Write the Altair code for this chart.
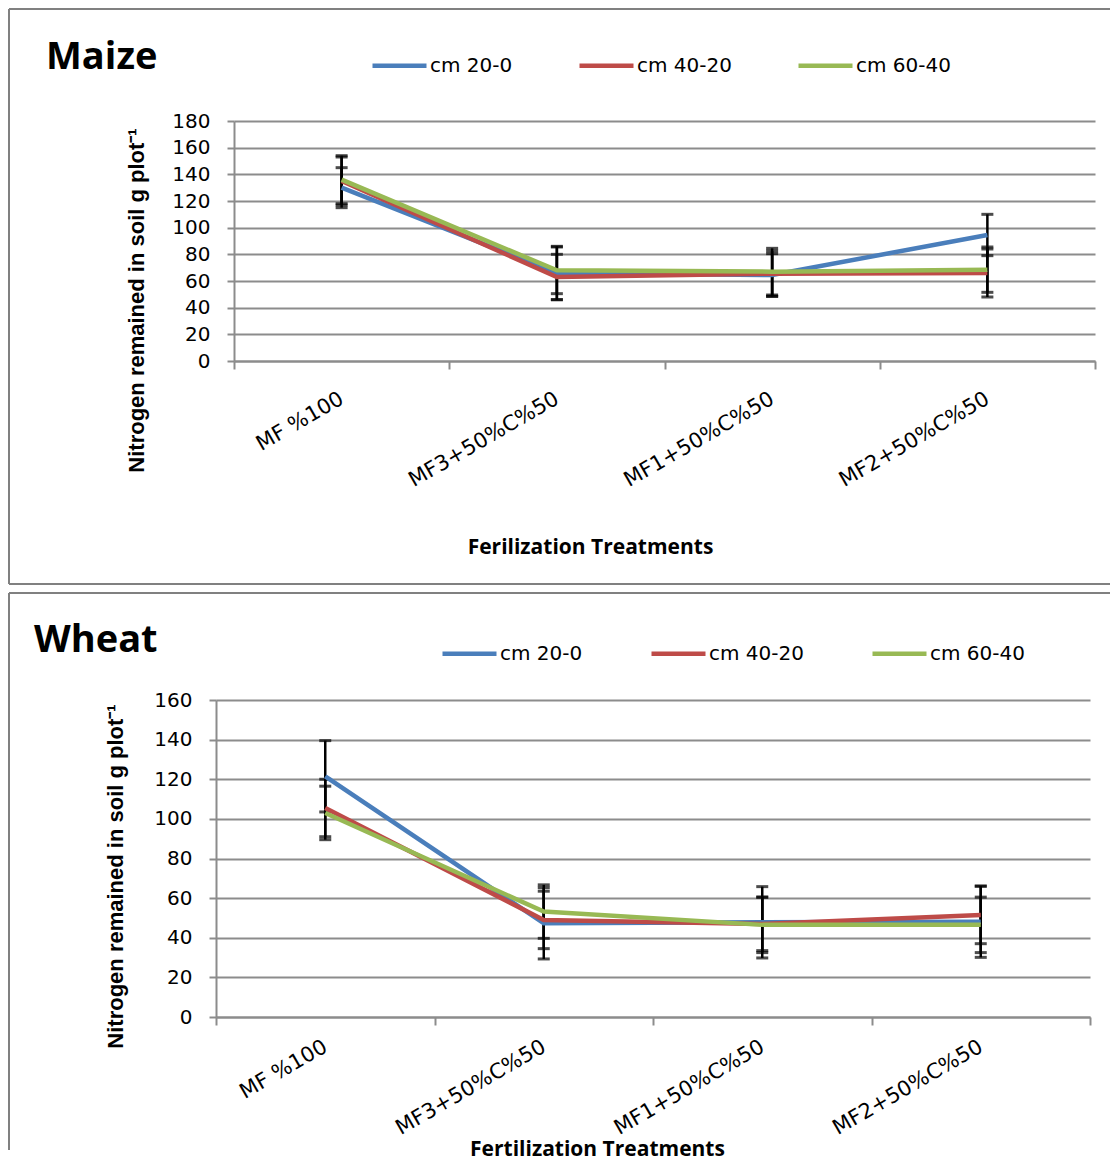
import altair as alt
import pandas as pd

# ---------------- data ----------------
categories = ["MF %100", "MF3+50%C%50", "MF1+50%C%50", "MF2+50%C%50"]
series_names = ["cm 20-0", "cm 40-20", "cm 60-40"]
series_colors = ["#4A7EBB", "#BE4B48", "#98B954"]

maize_20 = [130, 66, 64.5, 94.5]
maize_40 = [135, 63, 65.5, 66]
maize_60 = [136, 68, 67, 68.5]
maize_err_20 = [15, 20, 16, 15.5]
maize_err_40 = [18, 17, 17, 18]
maize_err_60 = [18, 17.5, 17.5, 17]

wheat_20 = [121.5, 47.3, 47.8, 48.1]
wheat_40 = [105.5, 49, 47, 51.5]
wheat_60 = [103, 53.2, 46.5, 46.5]
wheat_err_20 = [18, 18, 18, 18]
wheat_err_40 = [14.5, 14.5, 13.5, 14.5]
wheat_err_60 = [13.5, 13.5, 14, 14]

maize_y_ticks = list(range(0, 181, 20))
wheat_y_ticks = list(range(0, 161, 20))

y_title = "Nitrogen remained in soil g plot\u207b\u00b9"

GRID = "#8c8c8c"
BORDER = "#808080"


def make_table(v20, v40, v60, e20, e40, e60):
    rows = []
    for name, vals, errs in zip(series_names, [v20, v40, v60], [e20, e40, e60]):
        for cat, v, e in zip(categories, vals, errs):
            rows.append({"treatment": cat, "depth": name, "value": v,
                         "low": v - e, "high": v + e})
    return pd.DataFrame(rows)


def panel(df, name, x_title, width, height, ymax, yticks, lay):
    # lay["shift"]: how far left of the shared origin this panel's plot starts
    s = lay["shift"]
    one = pd.DataFrame({"k": [0]})
    xenc = alt.X(
        "treatment:N",
        sort=categories,
        scale=alt.Scale(type="band", domain=categories, paddingInner=0,
                        paddingOuter=0, range=[-s, width - s]),
        axis=alt.Axis(
            title=x_title, titleX=lay["xtx"], titleY=lay["xty"],
            titleAlign="center", titleBaseline="alphabetic",
            titleFont="Open Sans", titleFontWeight="bold", titleFontSize=21,
            titleColor="black",
            labelAngle=-30, labelAlign="right", labelBaseline="middle",
            labelFont="DejaVu Sans", labelFontSize=21, labelColor="black",
            labelPadding=lay["lpad"], labelLimit=0, labelOverlap=False, labelBound=False,
            tickBand="extent", tickSize=8, tickColor=GRID, tickWidth=2,
            domainColor=GRID, domainWidth=2, grid=False,
        ),
    )
    yscale = alt.Scale(domain=[0, ymax], nice=False)
    yaxis_kw = dict(
        values=yticks, title=y_title, titleAngle=-90,
        titleX=lay["ytx"], titleY=lay["yty"],
        titleAlign="center", titleBaseline="alphabetic",
        titleFont="Liberation Sans", titleFontWeight="bold", titleFontSize=22,
        titleColor="black",
        labelFont="DejaVu Sans", labelFontSize=20, labelColor="black",
        labelPadding=17, tickSize=7, tickColor=GRID, tickWidth=2,
        domainColor=GRID, domainWidth=2,
        grid=True, gridColor=GRID, gridWidth=2,
    )
    if s:
        yaxis_kw["offset"] = s
    yaxis = alt.Axis(**yaxis_kw)

    b = lay["border"]
    border_top = alt.Chart(one).mark_rule(color=BORDER, strokeWidth=2).encode(
        x=alt.value(b["left"]), x2=alt.value(b["right"]), y=alt.value(b["top"]))
    border_left = alt.Chart(one).mark_rule(color=BORDER, strokeWidth=2).encode(
        x=alt.value(b["left"]), y=alt.value(b["top"]), y2=alt.value(b["bottom"]))
    layers = [border_top, border_left]
    if b.get("closed"):
        border_bottom = alt.Chart(one).mark_rule(color=BORDER, strokeWidth=2).encode(
            x=alt.value(b["left"]), x2=alt.value(b["right"]), y=alt.value(b["bottom"]))
        layers.append(border_bottom)

    title = alt.Chart(one).mark_text(
        text=name, align="left", baseline="alphabetic", font="Open Sans",
        fontWeight="bold", fontSize=38, color="black"
    ).encode(x=alt.value(lay["tx"]), y=alt.value(lay["ty"]))
    layers.append(title)

    bars = alt.Chart(df).mark_rule(color="black", strokeWidth=2.5).encode(
        x=xenc, y=alt.Y("low:Q", scale=yscale, axis=yaxis), y2="high:Q")
    caps = alt.Chart(df).transform_fold(["low", "high"], as_=["end", "cap"]).mark_tick(
        color="black", size=12, thickness=3, orient="horizontal"
    ).encode(x=xenc, y=alt.Y("cap:Q", scale=yscale, axis=yaxis))

    lines = alt.Chart(df).mark_line(strokeWidth=4.5).encode(
        x=xenc,
        y=alt.Y("value:Q", scale=yscale, axis=yaxis),
        color=alt.Color(
            "depth:N", sort=series_names,
            scale=alt.Scale(domain=series_names, range=series_colors),
            legend=alt.Legend(
                orient="none", legendX=lay["lx"], legendY=lay["ly"],
                direction="horizontal", title=None,
                symbolType="stroke", symbolStrokeWidth=4.5, symbolSize=2916,
                labelFont="DejaVu Sans", labelFontSize=20, labelColor="black",
                labelOffset=1, columnPadding=lay["cpad"], padding=0, labelLimit=0,
            ),
        ),
        order=alt.Order("treatment_idx:Q"),
    ).transform_calculate(
        treatment_idx="indexof(%s, datum.treatment)" % str(categories)
    )
    layers += [bars, caps, lines]
    return alt.layer(*layers).properties(
        width=width - s, height=height,
        view=alt.ViewBackground(stroke="transparent", strokeWidth=0),
    )


maize_df = make_table(maize_20, maize_40, maize_60, maize_err_20, maize_err_40, maize_err_60)
wheat_df = make_table(wheat_20, wheat_40, wheat_60, wheat_err_20, wheat_err_40, wheat_err_60)

# both panels share the plot origin at page x=234; the wheat plot starts 18px further left
maize_layout = {
    "shift": 0,
    "border": {"left": -225, "right": 876, "top": -112, "bottom": 463, "closed": True},
    "tx": -188, "ty": -52,
    "lx": 136, "ly": -85, "cpad": 57,
    "ytx": -91, "yty": 179,
    "xtx": 356, "xty": 192, "lpad": 28,
}
wheat_layout = {
    "shift": 18,
    "border": {"left": -225, "right": 876, "top": -107, "bottom": 450},
    "tx": -200, "ty": -48,
    "lx": 206, "ly": -76, "cpad": 59,
    "ytx": -94, "yty": 176,
    "xtx": 363, "xty": 138, "lpad": 20,
}

maize = panel(maize_df, "Maize", "Ferilization Treatments", 861, 240, 180, maize_y_ticks, maize_layout)
wheat = panel(wheat_df, "Wheat", "Fertilization Treatments", 874, 317, 160, wheat_y_ticks, wheat_layout)

chart = alt.concat(
    maize, wheat, columns=1, spacing=7, padding=0
).resolve_scale(x="independent", y="independent", color="independent").configure_view(
    stroke="transparent", strokeWidth=0
).configure(background="white")

chart.save("out.html", embed_options={"renderer": "svg", "actions": False})
